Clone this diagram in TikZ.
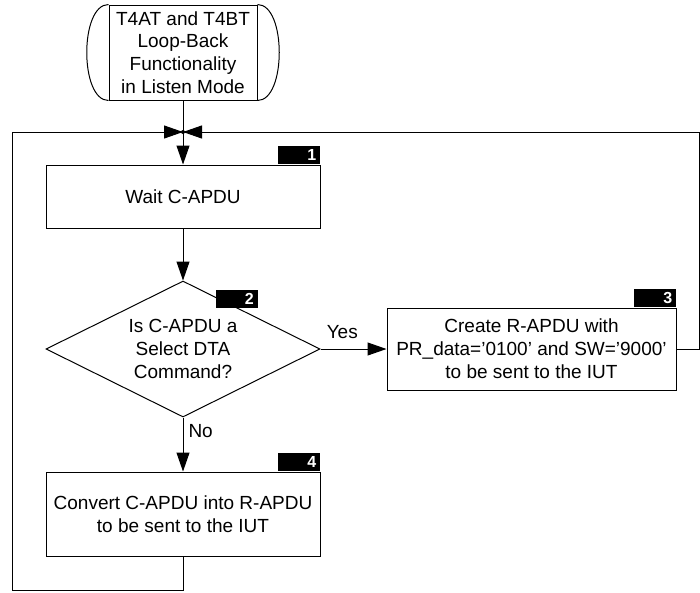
\documentclass[tikz,border=0pt]{standalone}
\usepackage{fontspec}
\setmainfont{Liberation Sans}
\usetikzlibrary{shapes.geometric,arrows.meta}
\tikzset{
  blk/.style={draw,line width=1pt,minimum width=274pt,inner sep=0pt,align=center},
  tag/.style={fill=black,text=white,font=\bfseries\fontsize{16}{16}\selectfont,
    text width=34pt,inner xsep=4pt,inner ysep=0pt,minimum height=18pt,align=right,anchor=south east},
  flow/.style={line width=1pt,-{Triangle[length=19pt,width=13pt]}},
  link/.style={line width=1pt},
}
\begin{document}
\begin{tikzpicture}[x=1pt,y=-1pt,every node/.style={font=\fontsize{19}{22.8}\selectfont}]
\useasboundingbox (0,0) rectangle (700,592);
%main body
\node[blk,minimum width=148pt,minimum height=95pt] (start) at (183,52.5) {T4AT and T4BT\\Loop-Back\\Functionality\\in Listen Mode};
\draw[link] (start.north west) .. controls +(-29,0) and +(-29,0) .. (start.south west);
\draw[link] (start.north east) .. controls +(29,0) and +(29,0) .. (start.south east);
\node[blk,minimum height=63pt] (wait) at (183,196.5) {Wait C-APDU};
\node[blk,diamond,aspect=2,minimum height=136pt] (sel) at (183,349) {Is C-APDU a\\Select DTA\\Command?};
\node[blk,minimum width=289pt,minimum height=82pt] (resp) at (531.5,349) {Create R-APDU with\\PR\_data='0100' and SW='9000'\\to be sent to the IUT};
\node[blk,minimum height=84pt] (conv) at (183,514) {Convert C-APDU into R-APDU\\to be sent to the IUT};
%step numbers
\node[tag] (t1) at (wait.north east) {1};
\node[tag] (t2) at (258,308) {2};
\node[tag] (t3) at (resp.north east) {3};
\node[tag] (t4) at (conv.north east) {4};
%connectors
\coordinate (j) at (183,132);
\coordinate (lb) at (12,590);
\coordinate (rt) at (699,349);
\draw[link] (start.south) -- (j);
\fill (j) circle (2);
\draw[flow] (j) -- (wait.north);
\draw[flow] (wait.south) -- (sel.north);
\draw[flow] (sel.east) -- node[pos=0.33,above=10pt,inner sep=0pt]{Yes} (resp.west);
\draw[flow] (sel.south) -- node[pos=0.25,right=5pt,inner sep=0pt]{No} (conv.north);
\draw[flow] (conv.south) |- (lb) |- (j);
\draw[flow] (resp.east) -- (rt) |- (j);
\end{tikzpicture}
\end{document}
